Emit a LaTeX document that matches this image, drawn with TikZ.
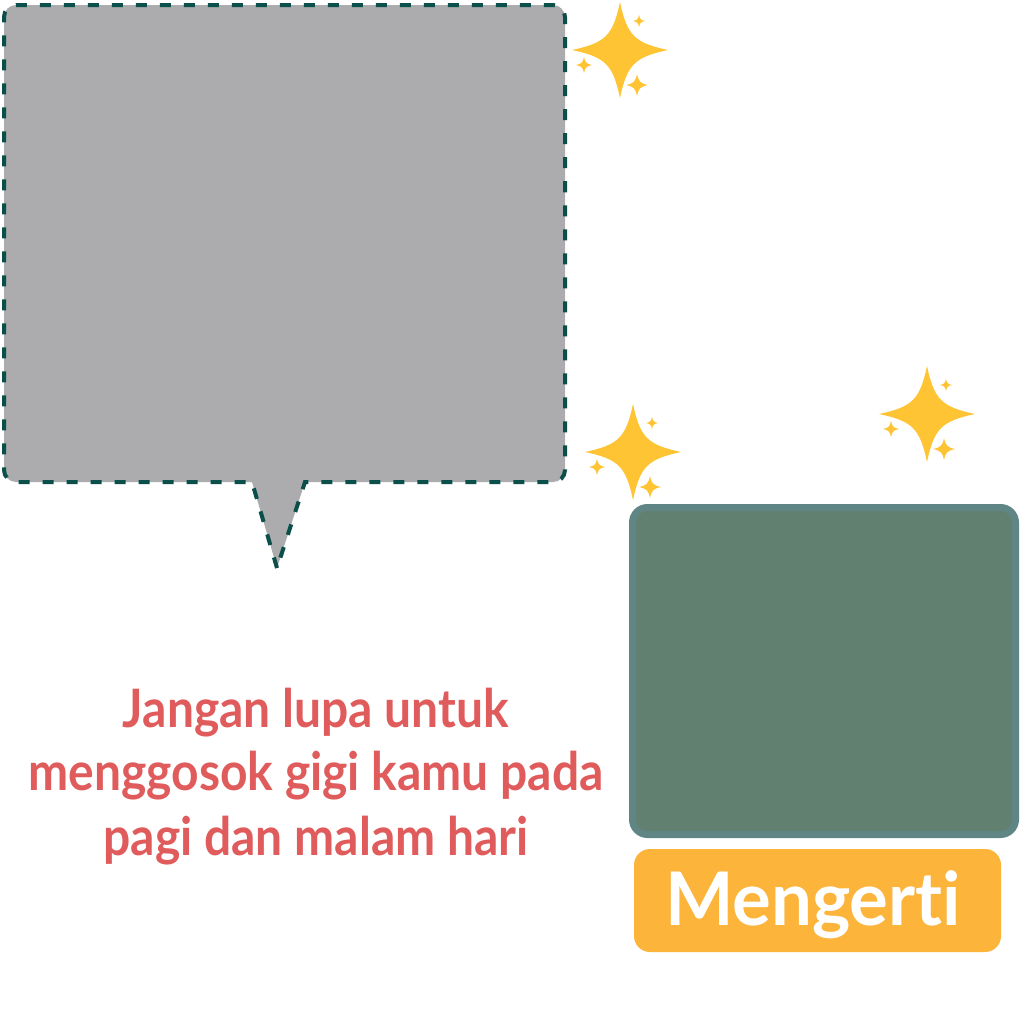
\documentclass[tikz,border=0pt]{standalone}
\usepackage{fontspec}
\setmainfont{Lato}[Ligatures=NoCommon]
\newfontfamily\msgfont{Lato}[Ligatures=NoCommon, FakeStretch=0.905]
\newfontfamily\btnfont{Lato}[Ligatures=NoCommon, FakeStretch=0.98]
\definecolor{bubblefill}{HTML}{ACACAE}
\definecolor{bubbleline}{HTML}{0B4F4A}
\definecolor{sparkcol}{HTML}{FEC433}
\definecolor{panelfill}{HTML}{62806F}
\definecolor{panelline}{HTML}{5F8585}
\definecolor{btnfill}{HTML}{FDB43B}
\definecolor{msgred}{HTML}{E05C5C}
\tikzset{
  spark/.pic={\fill[sparkcol] (0,-1) .. controls (0.15,-0.3) and (0.3,-0.15) .. (1,0)
     .. controls (0.3,0.15) and (0.15,0.3) .. (0,1)
     .. controls (-0.15,0.3) and (-0.3,0.15) .. (-1,0)
     .. controls (-0.3,-0.15) and (-0.15,-0.3) .. cycle;},
  sparkgroup/.pic={
     \pic[scale=48] {spark};
     \pic[scale=6] at (19,-29) {spark};
     \pic[scale=8] at (-36,15) {spark};
     \pic[scale=11] at (17,35) {spark};},
  msgline/.style={text=msgred, font=\msgfont\fontsize{53}{64}\selectfont\bfseries, anchor=base, inner sep=0pt},
}
\begin{document}
\begin{tikzpicture}[x=1pt,y=-1pt]
\useasboundingbox (0,0) rectangle (1022,1009);
\fill[white] (0,0) rectangle (1022,1009);
% speech bubble
\draw[fill=bubblefill, draw=bubbleline, line width=4pt, dash pattern=on 11pt off 13pt]
  (277,568) -- (252,482) [rounded corners=12pt] -- (4,482) -- (4,5) -- (565,5) -- (565,482) [sharp corners] -- (305,482) -- cycle;
% sparkles
\pic at (620,50) {sparkgroup};
\pic at (633,452) {sparkgroup};
\pic at (927,414) {sparkgroup};
% panel
\node (panel) [draw=panelline, fill=panelfill, line width=7pt, rounded corners=15pt,
  minimum width=383pt, minimum height=327pt, inner sep=0pt] at (824,671) {};
% button
\node (btn) [fill=btnfill, rounded corners=16pt, minimum width=367pt, minimum height=103pt, inner sep=0pt] at (817.5,900.5) {};
\node (btntext) [text=white, font=\btnfont\fontsize{74}{80}\selectfont\bfseries, anchor=base, inner sep=0pt] at (813,925) {Mengerti};
% message
\node (m1) [msgline] at (316,727) {Jangan lupa untuk};
\node (m2) [msgline] at (316,790) {menggosok gigi kamu pada};
\node (m3) [msgline] at (316,855) {pagi dan malam hari};
\end{tikzpicture}
\end{document}
